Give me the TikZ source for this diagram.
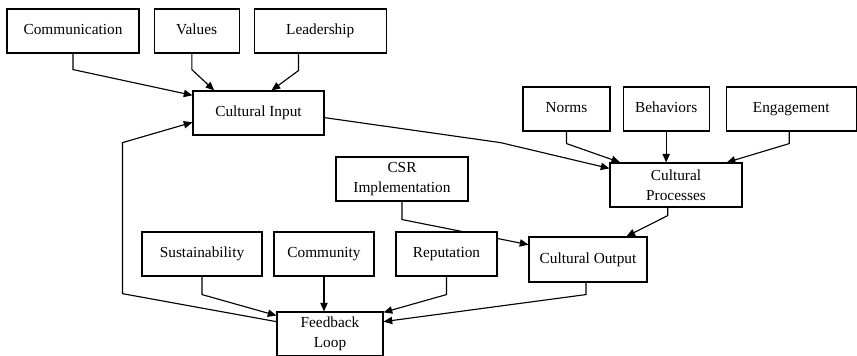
\documentclass[tikz,border=0pt]{standalone}
\usepackage{fontspec}
\setmainfont{Liberation Serif}
\usetikzlibrary{arrows.meta}
\usetikzlibrary{positioning,backgrounds}

\begin{document}
\begin{tikzpicture}[x=0.75pt, y=-0.75pt,
    tallbox/.style={draw, fill=white, line width=0.85pt, minimum height=33pt, inner sep=2pt,
      align=center, font=\fontsize{11.5}{15}\selectfont},
    box/.style={tallbox, text height=8.2pt, text depth=2.6pt},
    link/.style={-{Triangle[length=6.5pt,width=5.5pt]}, line width=0.85pt}]
  \useasboundingbox (0,0) rectangle (857,355);

  % inputs, top left
  \node [box, minimum width=99pt] (comm) at (73,31) {Communication};
  \node [box, minimum width=63.75pt, right=10.5pt of comm] (values) {Values};
  \node [box, minimum width=99pt, right=10.5pt of values] (lead) {Leadership};
  \node [box, minimum width=98.25pt] (input) at (258.5,113) {Cultural Input};

  % processes, right
  \node [box, minimum width=65.25pt] (norms) at (566.5,109) {Norms};
  \node [box, minimum width=64.5pt, right=9pt of norms] (behav) {Behaviors};
  \node [box, minimum width=97.5pt, right=12pt of behav] (engage) {Engagement};
  \node [tallbox, minimum width=99pt] (procs) at (676,185) {Cultural\\Processes};

  % outputs and feedback
  \node [tallbox, minimum width=99pt] (csr) at (402,179) {CSR\\Implementation};
  \node [box, minimum width=90pt] (sust) at (202,254) {Sustainability};
  \node [box, minimum width=75pt] (commun) at (324,254) {Community};
  \node [box, minimum width=75.75pt] (rep) at (446.5,254) {Reputation};
  \node [box, minimum width=88.5pt, minimum height=33.75pt] (output) at (588,259.5) {Cultural Output};
  \node [tallbox, minimum width=79.5pt] (fb) at (330,334) {Feedback\\Loop};

  \begin{scope}[on background layer]
    \draw [link] (comm.south) -- ++(0,16) -- (input.165);
    \draw [link] (values.-102) -- ++(0,16) -- (input.153);
    \draw [link] (lead.226) -- ++(0,17) -- (input.60);
    \draw [link] (input.-4) -- ++(176,25) -- (procs.166);

    \draw [link] (norms.south) -- ++(0,12) -- (procs.158);
    \draw [link] (behav.south) -- (behav.south |- procs.north);
    \draw [link] (engage.-95) -- ++(0,12) -- (procs.24);
    \draw [link] (procs.250) -- ++(0,8) -- (output.31);

    \draw [link] (csr.south) -- ++(0,18) -- (output.166);
    \draw [link] (output.-95) -- ++(0,12) -- (fb.13);
    \draw [link] (rep.south) -- ++(0,18) -- (fb.22);
    \draw [link] (commun.south) -- (commun.south |- fb.north);
    \draw [link] (sust.south) -- ++(0,18) -- (fb.161);

    % loop back to the input
    \draw [link] (fb.167) -- ++(-154,-28) -- ++(0,-151) -- (input.-172);
  \end{scope}
\end{tikzpicture}
\end{document}
